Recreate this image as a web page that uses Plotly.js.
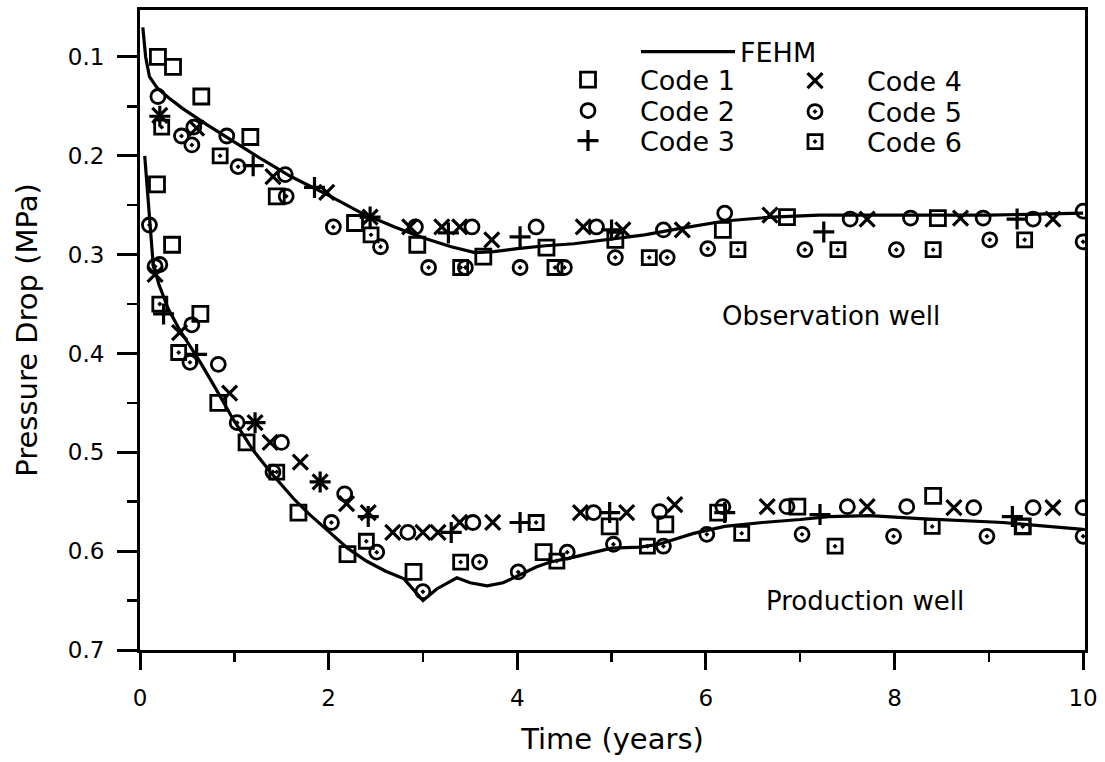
<!DOCTYPE html>
<html>
<head>
<meta charset="utf-8">
<script src="https://cdn.plot.ly/plotly-3.0.1.min.js"></script>
<style>
  html, body { margin: 0; padding: 0; background: #fff; }
  #chart { width: 1105px; height: 762px; }
</style>
</head>
<body>
<div id="chart"></div>
<script>
// ---- FEHM simulation curves ----
const fehmObsT  = [0.03, 0.06, 0.1, 0.18, 0.3, 0.45, 0.7, 1.0, 1.3, 1.6, 2.0, 2.35, 2.7, 3.0, 3.3, 3.55, 3.75, 4.0, 4.3, 4.6, 5.0, 5.35, 5.7, 6.2, 6.7, 7.2, 8.0, 9.0, 10.0];
const fehmObsDP = [0.07, 0.10, 0.12, 0.131, 0.141, 0.152, 0.168, 0.186, 0.204, 0.221, 0.24, 0.258, 0.272, 0.283, 0.292, 0.298, 0.297, 0.294, 0.291, 0.289, 0.284, 0.28, 0.274, 0.266, 0.262, 0.26, 0.26, 0.26, 0.258];

const fehmProdT  = [0.05, 0.08, 0.11, 0.14, 0.2, 0.3, 0.42, 0.64, 0.8, 0.99, 1.2, 1.4, 1.63, 1.8, 2.0, 2.2, 2.4, 2.6, 2.8, 3.0, 3.15, 3.36, 3.5, 3.68, 3.85, 4.0, 4.2, 4.35, 4.6, 5.0, 5.3, 5.5, 5.87, 6.2, 6.6, 7.0, 7.3, 7.74, 8.27, 9.15, 10.0];
const fehmProdDP = [0.2, 0.24, 0.28, 0.31, 0.33, 0.355, 0.376, 0.409, 0.435, 0.467, 0.498, 0.522, 0.547, 0.563, 0.58, 0.597, 0.61, 0.62, 0.628, 0.65, 0.638, 0.627, 0.632, 0.635, 0.632, 0.625, 0.616, 0.611, 0.606, 0.597, 0.596, 0.593, 0.582, 0.575, 0.571, 0.568, 0.565, 0.564, 0.567, 0.571, 0.578];

// ---- Code results (observation well points followed by production well points) ----
const code1T  = [0.19, 0.35, 0.65, 1.17, 1.45, 2.28, 2.94, 3.64, 4.31, 5.04, 6.18, 6.86, 8.46,
                 0.18, 0.34, 0.64, 0.83, 1.13, 1.68, 2.2, 2.9, 4.28, 4.98, 5.57, 6.13, 6.97, 8.41, 9.36];
const code1DP = [0.10, 0.11, 0.14, 0.181, 0.241, 0.268, 0.29, 0.302, 0.293, 0.285, 0.275, 0.262, 0.263,
                 0.229, 0.29, 0.36, 0.45, 0.49, 0.561, 0.603, 0.621, 0.601, 0.575, 0.573, 0.561, 0.555, 0.544, 0.575];

const code2T  = [0.19, 0.57, 0.92, 1.54, 2.92, 3.52, 4.2, 4.84, 5.55, 6.2, 7.53, 8.17, 8.94, 9.47, 10.0,
                 0.21, 0.55, 0.83, 1.5, 2.17, 2.84, 3.53, 4.81, 5.51, 6.18, 6.86, 7.5, 8.13, 8.84, 9.47, 10.0];
const code2DP = [0.14, 0.171, 0.18, 0.219, 0.272, 0.272, 0.272, 0.272, 0.275, 0.258, 0.264, 0.263, 0.263, 0.264, 0.256,
                 0.31, 0.371, 0.411, 0.49, 0.542, 0.581, 0.571, 0.561, 0.56, 0.555, 0.555, 0.555, 0.555, 0.556, 0.556, 0.556];

const code3T  = [0.21, 1.2, 1.85, 2.44, 3.27, 4.03, 5.0, 7.25, 9.3,
                 0.25, 0.6, 1.22, 1.91, 2.42, 3.3, 4.03, 4.98, 6.2, 7.21, 9.25];
const code3DP = [0.16, 0.21, 0.232, 0.262, 0.278, 0.282, 0.275, 0.277, 0.264,
                 0.36, 0.401, 0.47, 0.53, 0.565, 0.581, 0.571, 0.561, 0.561, 0.563, 0.565];

const code4T  = [0.21, 0.6, 1.41, 1.98, 2.44, 2.86, 3.2, 3.39, 3.73, 4.7, 5.12, 5.75, 6.68, 7.71, 8.7, 9.68,
                 0.16, 0.42, 0.95, 1.22, 1.38, 1.7, 1.91, 2.19, 2.42, 2.68, 3.0, 3.16, 3.39, 3.74, 4.67, 5.16, 5.67, 6.65, 7.71, 8.63, 9.68];
const code4DP = [0.159, 0.172, 0.221, 0.237, 0.262, 0.272, 0.272, 0.272, 0.285, 0.272, 0.275, 0.275, 0.26, 0.264, 0.263, 0.264,
                 0.32, 0.379, 0.44, 0.47, 0.49, 0.51, 0.53, 0.552, 0.561, 0.581, 0.581, 0.581, 0.571, 0.571, 0.561, 0.561, 0.553, 0.555, 0.555, 0.556, 0.556];

const code5T  = [0.44, 0.55, 1.04, 1.55, 2.05, 2.55, 3.06, 3.45, 4.03, 4.5, 5.04, 5.59, 6.02, 7.05, 8.02, 9.01, 10.0,
                 0.1, 0.16, 0.53, 1.03, 1.41, 2.03, 2.51, 3.0, 3.6, 4.01, 4.53, 5.02, 5.55, 6.01, 7.02, 7.99, 8.98, 10.0];
const code5DP = [0.18, 0.189, 0.211, 0.241, 0.272, 0.292, 0.313, 0.313, 0.313, 0.313, 0.303, 0.303, 0.294, 0.295, 0.295, 0.285, 0.287,
                 0.27, 0.312, 0.409, 0.47, 0.52, 0.571, 0.601, 0.641, 0.611, 0.621, 0.601, 0.593, 0.595, 0.583, 0.583, 0.585, 0.585, 0.585];

const code6T  = [0.23, 0.85, 2.45, 3.4, 4.4, 5.4, 6.34, 7.4, 8.41, 9.38,
                 0.21, 0.41, 1.45, 2.4, 3.4, 4.2, 4.42, 5.38, 6.38, 7.37, 8.4, 9.36];
const code6DP = [0.171, 0.2, 0.28, 0.313, 0.313, 0.303, 0.295, 0.295, 0.295, 0.285,
                 0.35, 0.399, 0.52, 0.59, 0.611, 0.571, 0.61, 0.595, 0.582, 0.595, 0.575, 0.575];

// ---- labels ----
const codeNames = ['Code 1', 'Code 2', 'Code 3', 'Code 4', 'Code 5', 'Code 6'];
const wellLabels = ['Observation well', 'Production well'];
const wellLabelT = [7.33, 7.69];
const wellLabelDP = [0.362, 0.650];
const xTickVals = [0, 2, 4, 6, 8, 10];
const yTickVals = [0.1, 0.2, 0.3, 0.4, 0.5, 0.6, 0.7];

const FONT = 'DejaVu Sans, Arial, sans-serif';
const codeT = [code1T, code2T, code3T, code4T, code5T, code6T];
const codeDP = [code1DP, code2DP, code3DP, code4DP, code5DP, code6DP];
const symbols = ['square-open', 'circle-open', 'cross-thin-open', 'x-thin-open', 'circle-open-dot', 'square-open-dot'];
const sizes = [15, 14, 15, 15, 14, 14];
const lw = [2.8, 2.8, 3.2, 3.2, 2.8, 2.8];

const traces = [
  {x: fehmObsT, y: fehmObsDP, mode: 'lines', name: 'FEHM', line: {color: '#000', width: 3.2}, legend: 'legend', showlegend: true},
  {x: fehmProdT, y: fehmProdDP, mode: 'lines', name: 'FEHM', line: {color: '#000', width: 3.2}, showlegend: false}
];
for (let i = 0; i < 6; i++) {
  traces.push({
    x: codeT[i], y: codeDP[i], mode: 'markers', name: codeNames[i],
    marker: {symbol: symbols[i], size: sizes[i], color: '#000', line: {color: '#000', width: lw[i]}},
    legend: 'legend' + (i + 2)
  });
}

const legBase = {font: {family: FONT, size: 27, color: '#000'}, bgcolor: 'rgba(0,0,0,0)', borderwidth: 0,
                 xref: 'paper', yref: 'paper', xanchor: 'left', yanchor: 'middle', itemwidth: 94};
// paper coords: plot x from 140 to 1085 px, y from 10 to 650 px
function px2paperX(p) { return (p - 140) / 945; }
function px2paperY(p) { return (650 - p) / 640; }
const legPos = [[636, 52], [536, 80], [536, 111], [536, 141], [763, 81], [763, 112], [763, 142]];

const layout = {
  width: 1105, height: 762,
  margin: {l: 140, r: 20, t: 10, b: 112},
  paper_bgcolor: '#fff', plot_bgcolor: '#fff',
  font: {family: FONT, color: '#000'},
  xaxis: {
    range: [0, 10.02], tickvals: xTickVals, ticktext: xTickVals.map(String),
    ticks: 'outside', ticklen: 17, tickwidth: 3, tickcolor: '#000',
    showline: true, linewidth: 3, linecolor: '#000', mirror: true,
    showgrid: false, zeroline: false, ticklabelstandoff: 8,
    tickfont: {family: FONT, size: 23, color: '#000'},
    minor: {tickvals: [1, 3, 5, 7, 9], ticks: 'outside', ticklen: 9, tickwidth: 2.5, tickcolor: '#000', showgrid: false},
    title: {text: 'Time (years)', font: {family: FONT, size: 29, color: '#000'}, standoff: 20}
  },
  yaxis: {
    range: [0.7, 0.0525], tickvals: yTickVals, ticktext: yTickVals.map(v => v.toFixed(1)),
    ticks: 'outside', ticklen: 20, tickwidth: 3, tickcolor: '#000',
    showline: true, linewidth: 3, linecolor: '#000', mirror: true,
    showgrid: false, zeroline: false, ticklabelstandoff: 8,
    tickfont: {family: FONT, size: 23, color: '#000'},
    minor: {tickvals: [0.15, 0.25, 0.35, 0.45, 0.55, 0.65], ticks: 'outside', ticklen: 10, tickwidth: 2.5, tickcolor: '#000', showgrid: false},
    title: {text: 'Pressure Drop (MPa)', font: {family: FONT, size: 29, color: '#000'}, standoff: 22}
  },
  annotations: wellLabels.map((t, i) => ({
    x: wellLabelT[i], y: wellLabelDP[i], xref: 'x', yref: 'y', text: t, showarrow: false,
    font: {family: FONT, size: 26, color: '#000'}, xanchor: 'center', yanchor: 'middle'
  })),
  showlegend: true
};
const legKeys = ['legend', 'legend2', 'legend3', 'legend4', 'legend5', 'legend6', 'legend7'];
legKeys.forEach((k, i) => {
  layout[k] = Object.assign({}, legBase, {x: px2paperX(legPos[i][0]), y: px2paperY(legPos[i][1])});
});

Plotly.newPlot('chart', traces, layout, {displayModeBar: false, staticPlot: true});
</script>
</body>
</html>
